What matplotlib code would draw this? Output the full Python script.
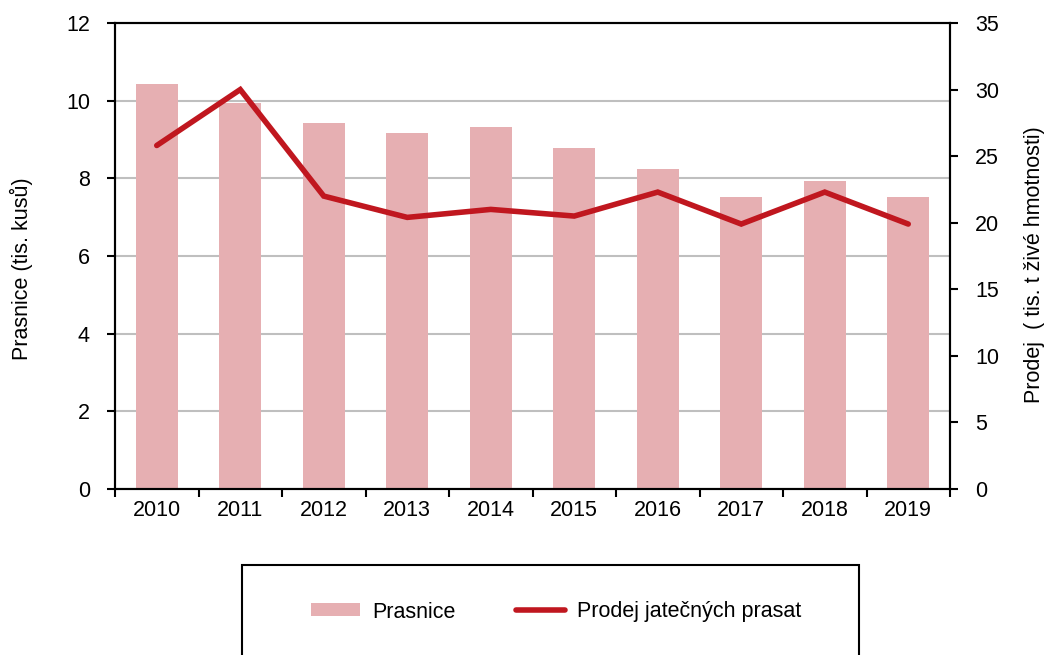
import matplotlib
matplotlib.use("Agg")
import matplotlib.pyplot as plt
from matplotlib.patches import Rectangle
import numpy as np

years = ["2010", "2011", "2012", "2013", "2014", "2015", "2016", "2017", "2018", "2019"]
prasnice = [10.44, 9.93, 9.42, 9.16, 9.31, 8.79, 8.23, 7.51, 7.92, 7.51]
prodej = [25.8, 30.0, 22.0, 20.4, 21.0, 20.5, 22.3, 19.9, 22.3, 19.9]

plt.rcParams['font.family'] = ['Liberation Sans', 'DejaVu Sans']
FS = 15.5

fig = plt.figure(figsize=(10.44, 6.55), dpi=100)
W, H = 1044, 655
ax = fig.add_axes([115 / W, 1 - 489 / H, (950 - 115) / W, (489 - 23) / H])
ax2 = ax.twinx()

x = np.arange(len(years))
bar_color = "#E6AFB2"
line_color = "#C0171F"

ax.bar(x, prasnice, width=0.5, color=bar_color, zorder=2, label="Prasnice")
ax.set_xlim(-0.5, len(years) - 0.5)
ax.set_ylim(0, 12)
ax.set_yticks(range(0, 13, 2))
ax.yaxis.grid(True, color="#BFBFBF", linewidth=1.5, zorder=0)
ax.set_axisbelow(True)

ax2.plot(x, prodej, color=line_color, linewidth=4, solid_capstyle="round",
         solid_joinstyle="miter", zorder=3, label="Prodej jatečných prasat")
ax2.set_ylim(0, 35)
ax2.set_yticks(range(0, 36, 5))

# x ticks at boundaries, labels centered
ax.set_xticks(np.arange(-0.5, len(years), 1.0))
ax.set_xticklabels([""] * (len(years) + 1))
ax.set_xticks(x, minor=True)
ax.set_xticklabels(years, minor=True)
ax.tick_params(axis="x", which="minor", length=0, labelsize=FS, pad=8)
ax.tick_params(axis="x", which="major", direction="out", length=6, width=1.5)
ax.tick_params(axis="y", direction="out", length=6, width=1.5, labelsize=FS, pad=12)
ax2.tick_params(axis="y", direction="out", length=6, width=1.5, labelsize=FS, pad=12)

for a in (ax, ax2):
    for s in a.spines.values():
        s.set_linewidth(1.5)
        s.set_color("black")

ax.set_ylabel("Prasnice (tis. kusů)", fontsize=FS)
ax.yaxis.set_label_coords(-0.098, 0.472)
ax2.set_ylabel("Prodej  ( tis. t živé hmotnosti)", fontsize=FS, rotation=90)
ax2.yaxis.set_label_coords(1.089, 0.481)

# legend box extending below figure
rect = Rectangle((242 / W, -0.05), (859 - 242) / W, 0.05 + (655 - 565) / H,
                 transform=fig.transFigure, fill=False, edgecolor="black",
                 linewidth=1.5, clip_on=False)
fig.add_artist(rect)

handles = [ax.containers[0], ax2.lines[0]]
labels = ["Prasnice", "Prodej jatečných prasat"]
leg = fig.legend(handles, labels, loc="center", bbox_to_anchor=(556 / W, 1 - 612 / H),
                 ncol=2, frameon=False, fontsize=FS, handlelength=2.3,
                 handleheight=0.56, columnspacing=2.8, handletextpad=0.55)

fig.savefig("out.png", dpi=100)
